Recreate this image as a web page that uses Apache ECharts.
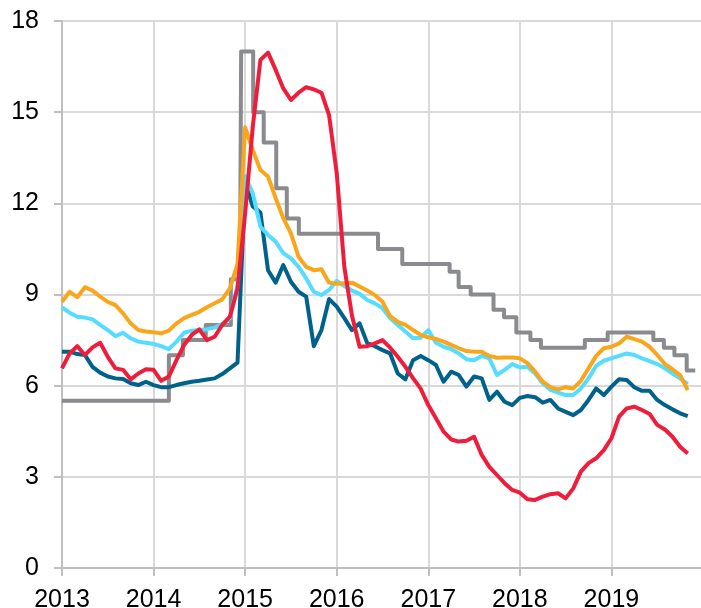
<!DOCTYPE html>
<html>
<head>
<meta charset="utf-8">
<script src="https://cdn.jsdelivr.net/npm/echarts@6/dist/echarts.min.js"></script>
<style>
  html, body { margin: 0; padding: 0; background: #fff; }
  #chart { width: 701px; height: 608px; }
</style>
</head>
<body>
<div id="chart"></div>
<script>
// monthly series, Jan 2013 onwards
var startYear = 2013;
var darkBlue = [7.12,7.12,7.04,7.01,6.62,6.43,6.30,6.24,6.22,6.08,6.02,6.13,
  6.02,5.95,5.95,6.02,6.08,6.13,6.16,6.20,6.24,6.38,6.57,6.76,
  12.7,11.9,11.7,9.8,9.39,9.97,9.42,9.09,8.93,7.3,7.83,8.85,
  8.6,8.22,7.83,8.05,7.4,7.3,7.17,7.06,6.4,6.21,6.84,6.98,
  6.84,6.68,6.13,6.46,6.35,5.97,6.3,6.24,5.53,5.8,5.47,5.36,
  5.6,5.66,5.62,5.44,5.53,5.25,5.14,5.03,5.2,5.53,5.91,5.69,
  5.97,6.21,6.19,5.95,5.83,5.83,5.53,5.36,5.22,5.09,5.0];
var cyan = [8.58,8.4,8.27,8.24,8.18,8.0,7.83,7.63,7.74,7.56,7.45,7.41,
  7.37,7.3,7.2,7.45,7.74,7.81,7.83,7.86,7.91,8.03,8.22,9.3,
  12.9,12.33,11.23,10.96,10.74,10.36,10.19,9.91,9.53,9.09,8.98,9.15,
  9.45,9.28,9.13,9.02,8.82,8.71,8.55,8.22,8.0,7.78,7.56,7.58,
  7.83,7.41,7.28,7.2,7.06,6.87,6.84,6.98,6.9,6.35,6.52,6.71,
  6.6,6.62,6.4,6.08,5.86,5.77,5.69,5.69,5.91,6.24,6.65,6.82,
  6.9,6.98,7.06,7.01,6.9,6.81,6.71,6.57,6.4,6.24,6.05];
var orange = [8.76,9.09,8.91,9.24,9.13,8.93,8.76,8.65,8.38,8.05,7.83,7.78,
  7.76,7.72,7.81,8.05,8.22,8.33,8.43,8.58,8.71,8.84,9.2,10.0,
  14.5,13.75,13.1,12.88,12.17,11.51,11.01,10.24,9.91,9.8,9.83,9.39,
  9.35,9.37,9.39,9.26,9.13,8.98,8.76,8.29,8.1,8.0,7.83,7.67,
  7.59,7.54,7.45,7.34,7.23,7.14,7.12,7.12,6.98,6.92,6.93,6.93,
  6.9,6.74,6.46,6.13,5.95,5.88,5.95,5.91,6.16,6.57,6.98,7.23,
  7.28,7.39,7.61,7.53,7.45,7.28,7.01,6.71,6.54,6.35,5.85];
var red = [6.57,7.06,7.3,7.01,7.26,7.41,6.95,6.57,6.52,6.21,6.4,6.54,
  6.52,6.16,6.3,6.84,7.34,7.67,7.85,7.5,7.61,8.0,8.27,9.2,
  11.67,14.52,16.72,16.96,16.39,15.78,15.4,15.64,15.82,15.75,15.64,14.9,
  13.0,9.9,8.3,7.28,7.3,7.39,7.5,7.25,6.95,6.62,6.25,5.9,
  5.36,4.93,4.49,4.23,4.16,4.19,4.32,3.72,3.33,3.06,2.79,2.57,
  2.48,2.26,2.24,2.35,2.43,2.46,2.29,2.62,3.17,3.45,3.61,3.88,
  4.27,4.98,5.25,5.31,5.2,5.07,4.71,4.56,4.32,3.99,3.77];

// key rate: dates of change and new level
var keyRateDates = ['2013-01-01','2014-03-03','2014-04-28','2014-07-28','2014-11-05','2014-12-12',
  '2014-12-16','2015-02-02','2015-03-16','2015-05-05','2015-06-16','2015-08-03',
  '2016-06-14','2016-09-19','2017-03-27','2017-05-02','2017-06-19','2017-09-18',
  '2017-10-30','2017-12-18','2018-02-12','2018-03-26','2018-09-17','2018-12-17',
  '2019-06-17','2019-07-29','2019-09-09','2019-10-28','2019-12-01'];
var keyRateValues = [5.5,7.0,7.5,8.0,9.5,10.5,
  17.0,15.0,14.0,12.5,11.5,11.0,
  10.5,10.0,9.75,9.25,9.0,8.5,
  8.25,7.75,7.5,7.25,7.5,7.75,
  7.5,7.25,7.0,6.5,6.5];

var yTicks = [0, 18, 3];

function decYear(s) {
    var p = s.split('-');
    var y = Number(p[0]);
    var d = new Date(Date.UTC(y, Number(p[1]) - 1, Number(p[2])));
    var d0 = Date.UTC(y, 0, 1), d1 = Date.UTC(y + 1, 0, 1);
    return y + (d - d0) / (d1 - d0);
}
function monthly(arr) {
    var out = [];
    for (var i = 0; i < arr.length; i++) {
        out.push([startYear + i / 12, arr[i]]);
    }
    return out;
}
var keyRate = [];
for (var k = 0; k < keyRateDates.length; k++) {
    keyRate.push([decYear(keyRateDates[k]), keyRateValues[k]]);
}

function line(name, data, color, step) {
    return {
        name: name, type: 'line', data: data, step: step || false,
        showSymbol: false, symbol: 'none', animation: false,
        lineStyle: { color: color, width: 4, join: 'round' },
        itemStyle: { color: color }
    };
}

var chart = echarts.init(document.getElementById('chart'));
chart.setOption({
    backgroundColor: '#ffffff',
    animation: false,
    grid: { left: 62, right: -2, top: 21, bottom: 40, containLabel: false, outerBoundsMode: 'none' },
    xAxis: {
        type: 'value', min: 2013, max: 2020, interval: 1,
        axisLine: { show: true, lineStyle: { color: '#bfbfbf', width: 2 } },
        axisTick: { show: true, length: 8, lineStyle: { color: '#bfbfbf', width: 2 } },
        splitLine: { show: true, lineStyle: { color: '#d9d9d9', width: 2 } },
        axisLabel: {
            color: '#000', fontSize: 25, fontFamily: 'Liberation Sans, Arial', margin: 20,
            formatter: function (v) { return v < 2020 ? String(v) : ''; }
        }
    },
    yAxis: {
        type: 'value', min: yTicks[0], max: yTicks[1], interval: yTicks[2],
        axisLine: { show: true, lineStyle: { color: '#bfbfbf', width: 2 } },
        axisTick: { show: true, length: 8, lineStyle: { color: '#bfbfbf', width: 2 } },
        splitLine: { show: true, lineStyle: { color: '#d9d9d9', width: 2 } },
        axisLabel: { color: '#000', fontSize: 25, fontFamily: 'Liberation Sans, Arial', margin: 23 }
    },
    series: [
        line('key rate', keyRate, '#8a8b8e', 'end'),
        line('dark blue', monthly(darkBlue), '#00628a'),
        line('cyan', monthly(cyan), '#55dcff'),
        line('orange', monthly(orange), '#f9a61c'),
        line('red', monthly(red), '#ee1d3b')
    ]
});
</script>
</body>
</html>
